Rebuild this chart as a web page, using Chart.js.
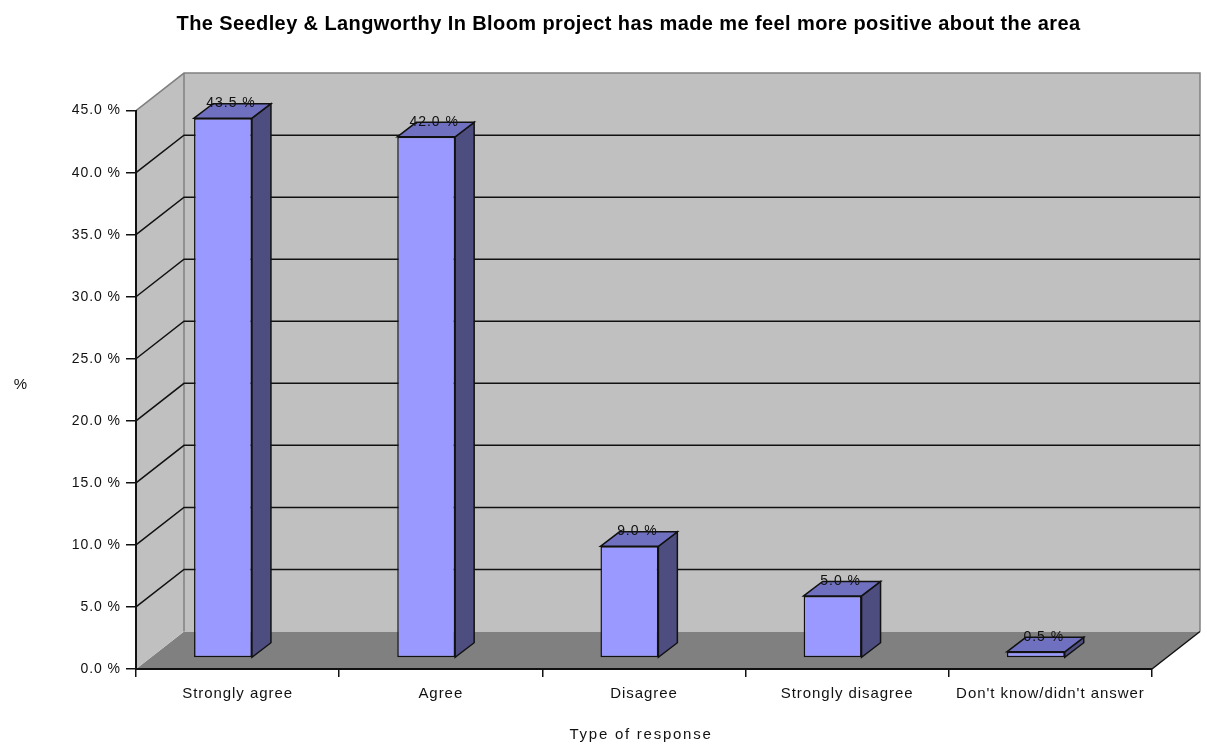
<!DOCTYPE html>
<html>
<head>
<meta charset="utf-8">
<title>Seedley & Langworthy In Bloom</title>
<script src="https://cdn.jsdelivr.net/npm/chart.js@4/dist/chart.umd.min.js"></script>
<style>
  html, body { margin: 0; padding: 0; background: #fff; }
  #wrap { width: 1207px; height: 747px; }
  canvas { filter: blur(0.4px); }
</style>
</head>
<body>
<div id="wrap"><canvas id="chart"></canvas></div>
<script>
var categories = ['Strongly agree', 'Agree', 'Disagree', 'Strongly disagree', "Don't know/didn't answer"];
var percentValues = [43.5, 42.0, 9.0, 5.0, 0.5];
var valueLabels = ['43.5 %', '42.0 %', '9.0 %', '5.0 %', '0.5 %'];
var yTickLabels = ['0.0 %', '5.0 %', '10.0 %', '15.0 %', '20.0 %', '25.0 %', '30.0 %', '35.0 %', '40.0 %', '45.0 %'];

var chartTitle = 'The Seedley & Langworthy In Bloom project has made me feel more positive about the area';
var xAxisTitle = 'Type of response';
var yAxisTitle = '%';

// fake 3d: how far the back wall and the bars are pushed from the front plane
var wallDx = 48, wallDy = 37.5;
var barShiftX = -14.6, barShiftY = -11;
var barDx = 19, barDy = 14.5;

var fontFamily = '"Liberation Sans", Arial, sans-serif';

function poly(ctx, pts, fill, stroke, lw) {
    ctx.beginPath();
    pts.forEach(function (p, i) {
        if (i === 0) ctx.moveTo(p[0], p[1]); else ctx.lineTo(p[0], p[1]);
    });
    ctx.closePath();
    if (fill) { ctx.fillStyle = fill; ctx.fill(); }
    if (stroke) { ctx.strokeStyle = stroke; ctx.lineWidth = lw || 1; ctx.stroke(); }
}

var box3d = {
    id: 'box3d',
    beforeDraw: function (chart) {
        var ctx = chart.ctx, a = chart.chartArea, y = chart.scales.y;
        // the reference text is set wide, ticks pick this up too
        ctx.letterSpacing = '0.95px';
        ctx.save();
        // floor, back wall, left wall
        poly(ctx, [[a.left, a.bottom], [a.right, a.bottom], [a.right + wallDx, a.bottom - wallDy], [a.left + wallDx, a.bottom - wallDy]], '#808080');
        poly(ctx, [[a.left + wallDx, a.top - wallDy], [a.right + wallDx, a.top - wallDy], [a.right + wallDx, a.bottom - wallDy], [a.left + wallDx, a.bottom - wallDy]], '#c0c0c0');
        poly(ctx, [[a.left, a.top], [a.left + wallDx, a.top - wallDy], [a.left + wallDx, a.bottom - wallDy], [a.left, a.bottom]], '#c0c0c0');

        ctx.strokeStyle = '#808080';
        ctx.lineWidth = 1.5;
        ctx.beginPath();
        ctx.moveTo(a.left, a.top);
        ctx.lineTo(a.left + wallDx, a.top - wallDy);
        ctx.lineTo(a.right + wallDx, a.top - wallDy);
        ctx.lineTo(a.right + wallDx, a.bottom - wallDy);
        ctx.moveTo(a.left + wallDx, a.top - wallDy);
        ctx.lineTo(a.left + wallDx, a.bottom - wallDy);
        ctx.stroke();

        // wall gridlines, skipping the floor and the top edge
        ctx.strokeStyle = '#111';
        ctx.lineWidth = 1.5;
        y.ticks.forEach(function (t) {
            if (t.value === y.min || t.value === y.max) return;
            var py = y.getPixelForValue(t.value);
            ctx.beginPath();
            ctx.moveTo(a.left, py);
            ctx.lineTo(a.left + wallDx, py - wallDy);
            ctx.lineTo(a.right + wallDx, py - wallDy);
            ctx.stroke();
        });

        // right hand edge of the floor
        ctx.beginPath();
        ctx.moveTo(a.right, a.bottom);
        ctx.lineTo(a.right + wallDx, a.bottom - wallDy);
        ctx.stroke();
        ctx.restore();
    },
    beforeDatasetsDraw: function (chart) {
        var ctx = chart.ctx;
        ctx.save();
        ctx.translate(barShiftX, barShiftY);
        chart.getDatasetMeta(0).data.forEach(function (bar) {
            var l = bar.x - bar.width / 2, r = bar.x + bar.width / 2;
            poly(ctx, [[r, bar.y], [r + barDx, bar.y - barDy], [r + barDx, bar.base - barDy], [r, bar.base]], '#4d4d80', '#111', 1.5);
            poly(ctx, [[l, bar.y], [l + barDx, bar.y - barDy], [r + barDx, bar.y - barDy], [r, bar.y]], '#7070c0', '#111', 1.5);
        });
    },
    afterDatasetsDraw: function (chart) {
        var ctx = chart.ctx;
        ctx.fillStyle = '#111';
        ctx.font = '14px ' + fontFamily;
        ctx.textAlign = 'center';
        ctx.textBaseline = 'middle';
        chart.getDatasetMeta(0).data.forEach(function (bar, i) {
            ctx.fillText(valueLabels[i], bar.x + 8, bar.y - 15);
        });
        ctx.restore();

        // axis titles
        ctx.save();
        ctx.fillStyle = '#111';
        ctx.textAlign = 'center';
        ctx.textBaseline = 'middle';
        ctx.font = '15px ' + fontFamily;
        ctx.fillText(yAxisTitle, 21, 385);
        ctx.letterSpacing = '1.75px';
        ctx.fillText(xAxisTitle, 641, 735);
        ctx.restore();
    },
    afterDraw: function (chart) {
        var ctx = chart.ctx;
        ctx.save();
        ctx.fillStyle = '#000';
        ctx.textAlign = 'center';
        ctx.textBaseline = 'middle';
        ctx.font = 'bold 20px ' + fontFamily;
        ctx.letterSpacing = '0.4px';
        ctx.fillText(chartTitle, 628.5, 24);
        ctx.restore();
    }
};

var myChart = new Chart(document.getElementById('chart').getContext('2d'), {
    type: 'bar',
    data: {
        labels: categories,
        datasets: [{
            data: percentValues,
            backgroundColor: '#9999ff',
            borderColor: '#111',
            borderWidth: 1.5,
            borderSkipped: false,
            barPercentage: 0.285,
            categoryPercentage: 1
        }]
    },
    options: {
        responsive: true,
        maintainAspectRatio: false,
        animation: false,
        layout: { padding: { top: 110.6, right: 55 } },
        plugins: {
            legend: { display: false },
            tooltip: { enabled: false },
            title: { display: false }
        },
        scales: {
            x: {
                grid: { drawOnChartArea: false, color: '#111', tickLength: 8, lineWidth: 1.5 },
                border: { color: '#111', width: 2 },
                ticks: { color: '#111', font: { family: fontFamily, size: 15 }, padding: 8, maxRotation: 0, autoSkip: false },
                afterFit: function (s) { s.height = 78; }
            },
            y: {
                min: 0,
                max: 45,
                grid: { drawOnChartArea: false, color: '#111', tickLength: 10, lineWidth: 1.5 },
                border: { color: '#111', width: 2 },
                ticks: {
                    stepSize: 5,
                    color: '#111',
                    font: { family: fontFamily, size: 14 },
                    padding: 5,
                    callback: function (v, i) { return yTickLabels[i]; }
                },
                afterFit: function (s) { s.width = 136; }
            }
        }
    },
    plugins: [box3d]
});
</script>
</body>
</html>
